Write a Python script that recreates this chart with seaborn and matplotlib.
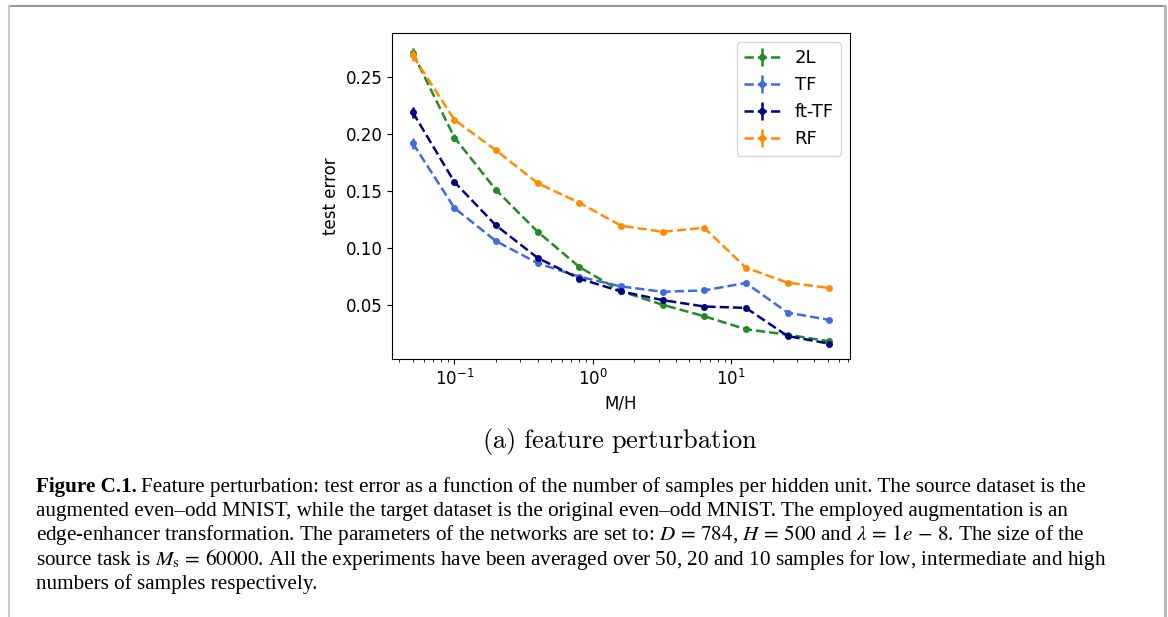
import numpy as np
import pandas as pd
import matplotlib
matplotlib.use("Agg")
import matplotlib.pyplot as plt
from matplotlib.container import ErrorbarContainer
from matplotlib.lines import Line2D
import seaborn as sns

# samples per hidden unit (M/H)
mh = [0.05, 0.1, 0.2, 0.4, 0.8, 1.6, 3.2, 6.4, 12.8, 25.6, 51.2]

err_2l = [0.271, 0.197, 0.151, 0.1145, 0.0837, 0.0625, 0.0506, 0.0406, 0.0292, 0.0245, 0.0186]
err_tf = [0.192, 0.1353, 0.1063, 0.087, 0.0752, 0.0667, 0.062, 0.0632, 0.0697, 0.0438, 0.0374]
err_fttf = [0.219, 0.158, 0.120, 0.0916, 0.0735, 0.0623, 0.0547, 0.0491, 0.0479, 0.0233, 0.0166]
err_rf = [0.2688, 0.2125, 0.1858, 0.157, 0.140, 0.1198, 0.1145, 0.118, 0.0831, 0.070, 0.0653]

std_2l = [0.0045, 0.003, 0.002, 0.0015, 0.001, 0.001, 0.0008, 0.0008, 0.0006, 0.0005, 0.0005]
std_tf = [0.005, 0.002, 0.0015, 0.001, 0.001, 0.0008, 0.0008, 0.0008, 0.0006, 0.0005, 0.0005]
std_fttf = [0.005, 0.0025, 0.0015, 0.001, 0.001, 0.0008, 0.0008, 0.0008, 0.0006, 0.0005, 0.0005]
std_rf = [0.005, 0.002, 0.0015, 0.001, 0.001, 0.0008, 0.0008, 0.0008, 0.0006, 0.0005, 0.0005]

labels = ["2L", "TF", "ft-TF", "RF"]
colors = ["forestgreen", "royalblue", "navy", "darkorange"]

caption_lines = [
    "Feature perturbation: test error as a function of the number of samples per hidden unit. The source dataset is the",
    "augmented even\u2013odd MNIST, while the target dataset is the original even\u2013odd MNIST. The employed augmentation is an",
    r"edge-enhancer transformation. The parameters of the networks are set to: $D\,=\,784$, $H\,=\,500$ and $\lambda\,=\,1e\,-\,8$. The size of the",
    r"source task is $M_{\mathrm{s}}\,=\,60000$. All the experiments have been averaged over 50, 20 and 10 samples for low, intermediate and high",
    "numbers of samples respectively.",
]

fig = plt.figure(figsize=(11.68, 6.17), dpi=100)
ax = fig.add_axes([0.3356, 0.4181, 0.3921, 0.5284])

means = [err_2l, err_tf, err_fttf, err_rf]
stds = [std_2l, std_tf, std_fttf, std_rf]
handles = []
for name, c, m, s in zip(labels, colors, means, stds):
    df = pd.DataFrame({"MH": mh, "err": m})
    sns.lineplot(data=df, x="MH", y="err", color=c, marker="o", markersize=5,
                 markeredgewidth=0, linestyle="--", linewidth=1.8, errorbar=None,
                 legend=False, ax=ax)
    line = ax.lines[-1]
    eb = ax.errorbar(mh, m, yerr=s, fmt="none", ecolor=c, elinewidth=1.8)
    handles.append(ErrorbarContainer((line, eb[1], eb[2]), has_xerr=False,
                                     has_yerr=True, label=name))

ax.set_xscale("log")
ax.set_yticks([0.05, 0.10, 0.15, 0.20, 0.25])
ax.set_xlabel("M/H", fontsize=12)
ax.set_ylabel("test error", fontsize=12)
ax.tick_params(labelsize=12)
ax.legend(handles=handles, labels=labels, loc="upper right", fontsize=13,
          handlelength=2.0)

# subfigure caption
fig.text(0.531, 0.284, r"$\mathrm{(a)\ feature\ perturbation}$", ha="center",
         va="center", fontsize=19, math_fontfamily="cm")

# figure caption
fig.canvas.draw()
renderer = fig.canvas.get_renderer()
x0, y0, dy = 36, 487, 24.2
cap_kw = dict(fontsize=15.2, family="Liberation Serif", math_fontfamily="stix",
              va="baseline", transform=None)
bold = fig.text(x0, 617 - y0 - 5, "Figure C.1.", fontweight="bold", **cap_kw)
bb = bold.get_window_extent(renderer)
for i, txt in enumerate(caption_lines):
    xs = bb.x1 + 4 if i == 0 else x0
    fig.text(xs, 617 - y0 - 5 - i * dy, txt, **cap_kw)

# page frame
fig.add_artist(Line2D([8.5, 1164.5], [611, 611], transform=None, color="#9a9a9a", lw=1.5))
fig.add_artist(Line2D([8.5, 8.5], [0, 611], transform=None, color="#c8c8c8", lw=1.5))
fig.add_artist(Line2D([1164.5, 1164.5], [0, 611], transform=None, color="#b8b8b8", lw=2.2))

fig.savefig("out.png", dpi=100)
